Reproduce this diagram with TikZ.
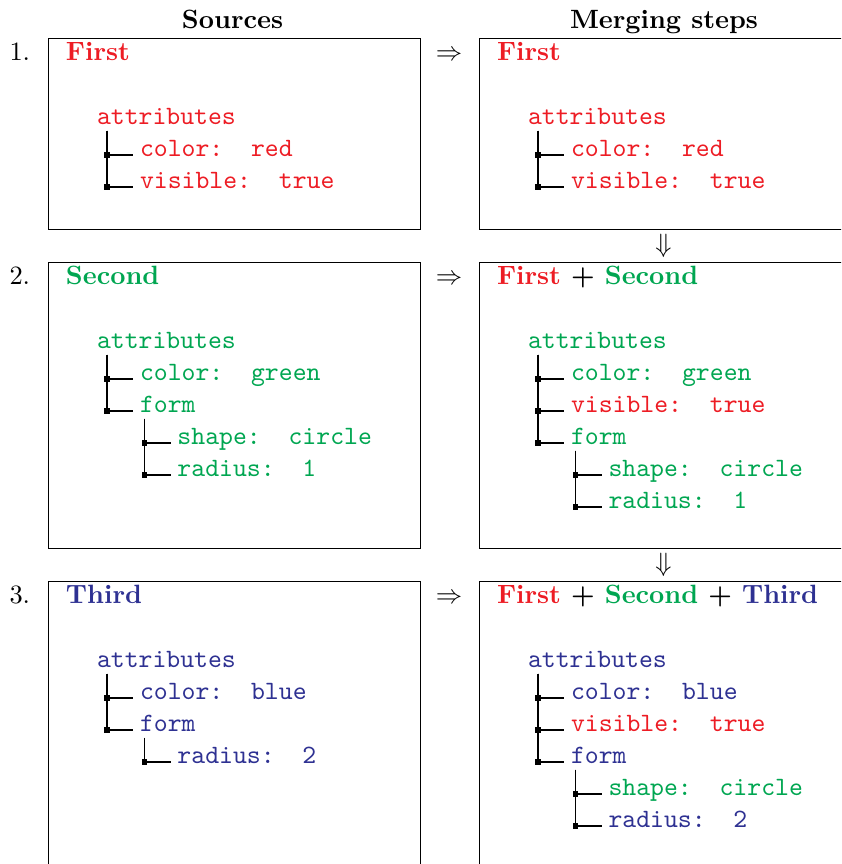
\documentclass[tikz,border=0pt]{standalone}
\usetikzlibrary{calc}

\definecolor{cred}{RGB}{237,28,36}
\definecolor{cgreen}{RGB}{0,166,81}
\definecolor{cblue}{RGB}{46,49,146}

% one branch of a key tree: vertical stem below the parent, elbow to the child
% #1 parent node, #2 child node, #3 stem offset from the parent's left edge, #4 name of the elbow mark
\newcommand\treeedge[4]{%
  \draw[branch] ($(#1.base west)+(#3,6.5)$) |- node[elbow] (#4) {} ($(#2.base west)+(-7,-1)$);}

\begin{document}
\begin{tikzpicture}[
  x=0.378pt, y=-0.378pt,
  lbl/.style={anchor=base west, inner sep=0pt, outer sep=0pt},
  hdr/.style={anchor=base, inner sep=0pt, font=\bfseries},
  ttl/.style={lbl, font=\bfseries},
  code/.style={lbl, font=\ttfamily},
  num/.style={lbl},
  frame/.style={draw=black, line width=0.4pt, anchor=north west, inner sep=0pt,
                minimum width=140.6pt},
  branch/.style={draw=black, line width=0.45pt},
  elbow/.style={pos=0.5, fill=black, inner sep=0pt, minimum size=2pt},
  sym/.style={inner sep=0pt},
]
\useasboundingbox (0,0) rectangle (841,864);
\clip (0,0) rectangle (841,864);

% column headings
\node[hdr] (hsrc) at (232.5,28) {Sources};
\node[hdr] (hmrg) at (664,28) {Merging steps};

% frames
\node[frame, minimum height=72.2pt]  (s1) at (48,38)  {};
\node[frame, minimum height=72.2pt]  (m1) at (479,38) {};
\node[frame, minimum height=108.1pt] (s2) at (48,262)  {};
\node[frame, minimum height=108.1pt] (m2) at (479,262) {};
\node[frame, minimum height=109.6pt] (s3) at (48,581)  {};
\node[frame, minimum height=109.6pt] (m3) at (479,581) {};

% step numbers and arrows
\node[num] (n1) at (9.5,60)  {1.};
\node[num] (n2) at (9.5,284) {2.};
\node[num] (n3) at (9.5,603) {3.};
\node[sym, anchor=base] (r1) at (449,60)  {$\Rightarrow$};
\node[sym, anchor=base] (r2) at (449,284) {$\Rightarrow$};
\node[sym, anchor=base] (r3) at (449,603) {$\Rightarrow$};
\node[sym] (d1) at (663.5,245.5) {$\Downarrow$};
\node[sym] (d2) at (663.5,564.5) {$\Downarrow$};

% ---- step 1: source
\node[ttl, text=cred] (s1t) at (66,60) {First};
\node[code, text=cred] (s1a) at (97,124)  {attributes};
\node[code, text=cred] (s1c) at (140,156) {color:~~red};
\node[code, text=cred] (s1v) at (140,188) {visible:~~true};
\treeedge{s1a}{s1c}{10}{s1e1}
\treeedge{s1a}{s1v}{10}{s1e2}

% ---- step 1: merged
\node[ttl, text=cred] (m1t) at (497,60) {First};
\node[code, text=cred] (m1a) at (528,124) {attributes};
\node[code, text=cred] (m1c) at (571,156) {color:~~red};
\node[code, text=cred] (m1v) at (571,188) {visible:~~true};
\treeedge{m1a}{m1c}{10}{m1e1}
\treeedge{m1a}{m1v}{10}{m1e2}

% ---- step 2: source
\node[ttl, text=cgreen] (s2t) at (66,284) {Second};
\node[code, text=cgreen] (s2a) at (97,348)    {attributes};
\node[code, text=cgreen] (s2c) at (140,380)   {color:~~green};
\node[code, text=cgreen] (s2f) at (140,412)   {form};
\node[code, text=cgreen] (s2s) at (177.5,444) {shape:~~circle};
\node[code, text=cgreen] (s2r) at (177.5,476) {radius:~~1};
\treeedge{s2a}{s2c}{10}{s2e1}
\treeedge{s2a}{s2f}{10}{s2e2}
\treeedge{s2f}{s2s}{4.5}{s2e3}
\treeedge{s2f}{s2r}{4.5}{s2e4}

% ---- step 2: merged
\node[ttl] (m2t) at (497,284) {\textcolor{cred}{First} + \textcolor{cgreen}{Second}};
\node[code, text=cgreen] (m2a) at (528,348)   {attributes};
\node[code, text=cgreen] (m2c) at (571,380)   {color:~~green};
\node[code, text=cred]   (m2v) at (571,412)   {visible:~~true};
\node[code, text=cgreen] (m2f) at (571,444)   {form};
\node[code, text=cgreen] (m2s) at (608.5,476) {shape:~~circle};
\node[code, text=cgreen] (m2r) at (608.5,508) {radius:~~1};
\treeedge{m2a}{m2c}{10}{m2e1}
\treeedge{m2a}{m2v}{10}{m2e2}
\treeedge{m2a}{m2f}{10}{m2e3}
\treeedge{m2f}{m2s}{4.5}{m2e4}
\treeedge{m2f}{m2r}{4.5}{m2e5}

% ---- step 3: source
\node[ttl, text=cblue] (s3t) at (66,603) {Third};
\node[code, text=cblue] (s3a) at (97,667)    {attributes};
\node[code, text=cblue] (s3c) at (140,699)   {color:~~blue};
\node[code, text=cblue] (s3f) at (140,731)   {form};
\node[code, text=cblue] (s3r) at (177.5,763) {radius:~~2};
\treeedge{s3a}{s3c}{10}{s3e1}
\treeedge{s3a}{s3f}{10}{s3e2}
\treeedge{s3f}{s3r}{4.5}{s3e3}

% ---- step 3: merged
\node[ttl] (m3t) at (497,603) {\textcolor{cred}{First} + \textcolor{cgreen}{Second} + \textcolor{cblue}{Third}};
\node[code, text=cblue]  (m3a) at (528,667)   {attributes};
\node[code, text=cblue]  (m3c) at (571,699)   {color:~~blue};
\node[code, text=cred]   (m3v) at (571,731)   {visible:~~true};
\node[code, text=cblue]  (m3f) at (571,763)   {form};
\node[code, text=cgreen] (m3s) at (608.5,795) {shape:~~circle};
\node[code, text=cblue]  (m3r) at (608.5,827) {radius:~~2};
\treeedge{m3a}{m3c}{10}{m3e1}
\treeedge{m3a}{m3v}{10}{m3e2}
\treeedge{m3a}{m3f}{10}{m3e3}
\treeedge{m3f}{m3s}{4.5}{m3e4}
\treeedge{m3f}{m3r}{4.5}{m3e5}
\end{tikzpicture}
\end{document}
